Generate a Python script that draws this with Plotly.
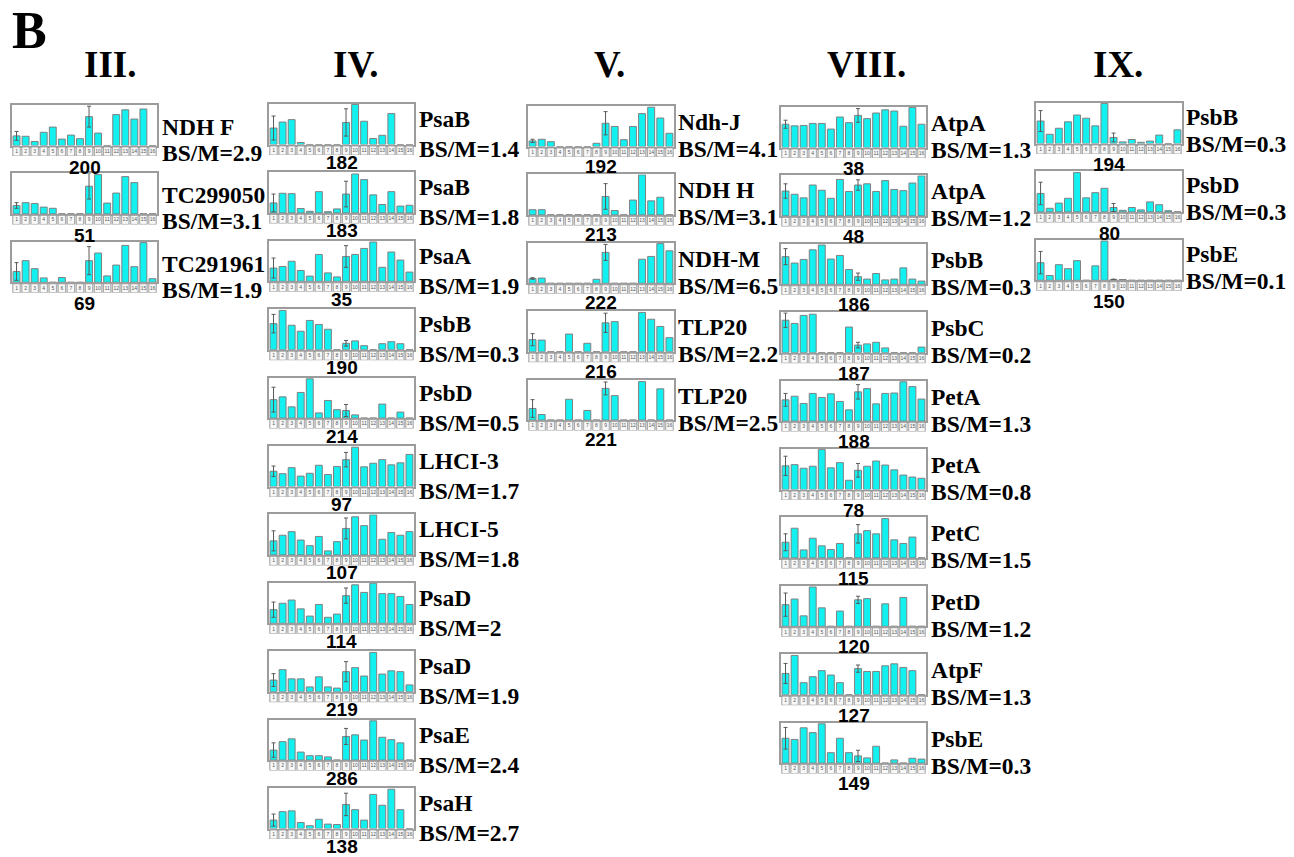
import plotly.graph_objects as go

# ---------------- data ----------------
bar_slots = list(range(1, 17))
tick_labels = [str(i) for i in bar_slots]
err_slots = [1, 9]
headers = ["III.", "IV.", "V.", "VIII.", "IX."]
panel_letter = "B"

# column III
bars_200 = [24, 23, 10, 33, 46, 16, 26, 17, 72, 31, 0, 77, 89, 66, 91, 0]
err_200 = [11, 26]
bars_51 = [21, 28, 26, 17, 14, 0, 0, 0, 69, 98, 27, 52, 93, 78, 0, 0]
err_51 = [7, 32]
bars_69 = [27, 54, 34, 11, 0, 12, 0, 0, 54, 73, 16, 43, 92, 39, 99, 9]
err_69 = [22, 35]

# column IV
bars_182 = [41, 56, 62, 5, 0, 0, 0, 0, 55, 100, 58, 15, 23, 77, 0, 0]
err_182 = [30, 34]
bars_183 = [25, 49, 48, 11, 4, 53, 3, 10, 47, 97, 83, 45, 21, 53, 17, 19]
err_183 = [22, 32]
bars_35 = [33, 37, 50, 27, 13, 67, 21, 11, 62, 67, 82, 98, 35, 73, 53, 23]
err_35 = [25, 27]
bars_190 = [65, 98, 61, 46, 73, 63, 51, 0, 16, 22, 10, 0, 15, 20, 15, 0]
err_190 = [23, 7]
bars_214 = [46, 53, 28, 64, 98, 13, 44, 21, 19, 8, 0, 0, 35, 0, 15, 0]
err_214 = [31, 15]
bars_97 = [38, 32, 47, 26, 33, 53, 30, 50, 67, 98, 49, 58, 67, 54, 59, 80]
err_97 = [13, 18]
bars_107 = [35, 49, 58, 37, 23, 46, 10, 33, 66, 95, 73, 100, 39, 56, 49, 58]
err_107 = [25, 26]
bars_114 = [34, 50, 58, 36, 18, 47, 15, 23, 69, 96, 77, 100, 74, 74, 67, 47]
err_114 = [19, 19]
bars_219 = [29, 55, 32, 32, 12, 37, 12, 9, 50, 60, 39, 98, 44, 52, 50, 17]
err_219 = [16, 25]
bars_286 = [25, 46, 53, 20, 11, 11, 8, 0, 59, 63, 50, 98, 57, 51, 43, 0]
err_286 = [18, 20]
bars_138 = [21, 42, 44, 15, 7, 23, 11, 10, 60, 47, 21, 85, 58, 98, 47, 0]
err_138 = [15, 28]

# column V
bars_192 = [14, 18, 12, 0, 0, 0, 0, 8, 58, 50, 17, 50, 82, 98, 71, 33]
err_192 = [4, 29]
bars_213 = [13, 13, 0, 0, 0, 0, 0, 0, 46, 11, 0, 37, 100, 35, 44, 0]
err_213 = [0, 32]
bars_222 = [12, 13, 0, 0, 0, 0, 0, 10, 77, 0, 0, 0, 60, 67, 99, 81]
err_222 = [2, 20]
bars_216 = [30, 29, 0, 0, 44, 0, 21, 0, 72, 75, 0, 0, 98, 81, 63, 35]
err_216 = [15, 24]
bars_221 = [29, 14, 0, 0, 52, 0, 24, 0, 79, 61, 0, 0, 96, 0, 78, 0]
err_221 = [22, 16]

# column VIII
bars_38 = [58, 54, 55, 60, 60, 46, 76, 62, 80, 72, 86, 94, 91, 53, 100, 58]
err_38 = [10, 17]
bars_48 = [62, 54, 45, 77, 64, 44, 91, 61, 77, 80, 61, 88, 66, 63, 82, 100]
err_48 = [18, 13]
bars_186 = [69, 53, 62, 86, 98, 63, 72, 37, 19, 13, 27, 11, 13, 41, 13, 8]
err_186 = [20, 9]
bars_187 = [81, 73, 93, 96, 0, 0, 0, 64, 19, 22, 26, 12, 0, 0, 0, 14]
err_187 = [18, 7]
bars_188 = [53, 62, 44, 69, 59, 68, 49, 28, 73, 81, 43, 69, 70, 98, 86, 55]
err_188 = [16, 18]
bars_78 = [59, 62, 53, 58, 100, 54, 67, 23, 48, 58, 71, 61, 49, 36, 31, 28]
err_78 = [24, 17]
bars_115 = [39, 74, 20, 49, 30, 21, 36, 0, 60, 68, 60, 98, 45, 36, 52, 0]
err_115 = [21, 23]
bars_120 = [54, 68, 26, 98, 46, 0, 38, 0, 66, 69, 0, 56, 0, 72, 0, 0]
err_120 = [29, 9]
bars_127 = [53, 98, 30, 45, 60, 49, 30, 0, 65, 58, 58, 72, 77, 68, 60, 0]
err_127 = [25, 9]
bars_149 = [62, 59, 88, 76, 98, 26, 62, 26, 18, 13, 42, 0, 8, 0, 12, 10]
err_149 = [27, 14]

# column IX
bars_194 = [56, 23, 38, 54, 71, 63, 44, 100, 15, 4, 10, 3, 6, 21, 0, 34]
err_194 = [26, 11]
bars_80 = [46, 9, 22, 34, 98, 35, 48, 59, 11, 4, 11, 5, 25, 18, 3, 0]
err_80 = [28, 10]
bars_150 = [44, 12, 39, 29, 49, 0, 36, 98, 2, 2, 0, 0, 0, 0, 0, 0]
err_150 = [28, 1]

col3_ids = ["200", "51", "69"]
col3_names = ["NDH F", "TC299050", "TC291961"]
col3_ratio = ["2.9", "3.1", "1.9"]
col3_bars = [bars_200, bars_51, bars_69]
col3_err = [err_200, err_51, err_69]

col4_ids = ["182", "183", "35", "190", "214", "97", "107", "114", "219", "286", "138"]
col4_names = ["PsaB", "PsaB", "PsaA", "PsbB", "PsbD", "LHCI-3", "LHCI-5", "PsaD", "PsaD", "PsaE", "PsaH"]
col4_ratio = ["1.4", "1.8", "1.9", "0.3", "0.5", "1.7", "1.8", "2", "1.9", "2.4", "2.7"]
col4_bars = [bars_182, bars_183, bars_35, bars_190, bars_214, bars_97, bars_107,
             bars_114, bars_219, bars_286, bars_138]
col4_err = [err_182, err_183, err_35, err_190, err_214, err_97, err_107,
            err_114, err_219, err_286, err_138]

col5_ids = ["192", "213", "222", "216", "221"]
col5_names = ["Ndh-J", "NDH H", "NDH-M", "TLP20", "TLP20"]
col5_ratio = ["4.1", "3.1", "6.5", "2.2", "2.5"]
col5_bars = [bars_192, bars_213, bars_222, bars_216, bars_221]
col5_err = [err_192, err_213, err_222, err_216, err_221]

col8_ids = ["38", "48", "186", "187", "188", "78", "115", "120", "127", "149"]
col8_names = ["AtpA", "AtpA", "PsbB", "PsbC", "PetA", "PetA", "PetC", "PetD", "AtpF", "PsbE"]
col8_ratio = ["1.3", "1.2", "0.3", "0.2", "1.3", "0.8", "1.5", "1.2", "1.3", "0.3"]
col8_bars = [bars_38, bars_48, bars_186, bars_187, bars_188, bars_78, bars_115,
             bars_120, bars_127, bars_149]
col8_err = [err_38, err_48, err_186, err_187, err_188, err_78, err_115,
            err_120, err_127, err_149]

col9_ids = ["194", "80", "150"]
col9_names = ["PsbB", "PsbD", "PsbE"]
col9_ratio = ["0.3", "0.3", "0.1"]
col9_bars = [bars_194, bars_80, bars_150]
col9_err = [err_194, err_80, err_150]

# ---------------- layout constants ----------------
OFF = 8                      # default page body margin of the html page
W, H = 1294 - OFF, 857 - OFF # figure size so that the page fills the window exactly
STEP = 68.4
PH = 40.5
TICK_TOP, TICK_BOT = 1.5, 10.5
SERIF = "Liberation Serif"
SANS = "Liberation Sans"
BAR_FILL = "#12F0F0"
BAR_LINE = "#808080"
FRAME = "#9c9c9c"
LABEL_SIZE = 23.5

columns = [
    dict(ids=col3_ids, names=col3_names, ratio=col3_ratio, bars=col3_bars, err=col3_err,
         x0=12, x1=157, top=105, name_dy=22, ratio_dy=48, lab_dy=62, text_x=160, head_x=110),
    dict(ids=col4_ids, names=col4_names, ratio=col4_ratio, bars=col4_bars, err=col4_err,
         x0=269, x1=414, top=104, name_dy=15, ratio_dy=45, lab_dy=58.5, text_x=417, head_x=356),
    dict(ids=col5_ids, names=col5_names, ratio=col5_ratio, bars=col5_bars, err=col5_err,
         x0=528, x1=674, top=106, name_dy=16, ratio_dy=43, lab_dy=60, text_x=676, head_x=609),
    dict(ids=col8_ids, names=col8_names, ratio=col8_ratio, bars=col8_bars, err=col8_err,
         x0=781, x1=926, top=107, name_dy=16, ratio_dy=43, lab_dy=61, text_x=929, head_x=866),
    dict(ids=col9_ids, names=col9_names, ratio=col9_ratio, bars=col9_bars, err=col9_err,
         x0=1036, x1=1182, top=103, name_dy=14, ratio_dy=41, lab_dy=62, text_x=1184, head_x=1118),
]


def px(v):
    return (v - OFF) / W


def py(v):
    return 1 - (v - OFF) / H


fig = go.Figure()
layout = {}
annotations = []
shapes = []
k = 0
for ci, col in enumerate(columns):
    for i in range(len(col["ids"])):
        T = col["top"] + i * STEP
        a_main = 2 * k + 1
        a_tick = 2 * k + 2
        k += 1
        xm = "x" if a_main == 1 else f"x{a_main}"
        ym = "y" if a_main == 1 else f"y{a_main}"
        xt, yt = f"x{a_tick}", f"y{a_tick}"
        dom_x = [px(col["x0"]), px(col["x1"])]
        kx = "xaxis" if a_main == 1 else f"xaxis{a_main}"
        ky = "yaxis" if a_main == 1 else f"yaxis{a_main}"
        layout[kx] = dict(domain=dom_x, range=[0.5, 16.5], anchor=ym, showticklabels=False,
                          ticks="", showgrid=False, zeroline=False, showline=True,
                          mirror=True, linecolor=FRAME, linewidth=1.5, fixedrange=True)
        layout[ky] = dict(domain=[py(T + PH), py(T)], range=[0, 101], anchor=xm,
                          showticklabels=False, ticks="", showgrid=False, zeroline=False,
                          showline=True, mirror=True, linecolor=FRAME, linewidth=1.5,
                          fixedrange=True)
        layout[f"xaxis{a_tick}"] = dict(domain=dom_x, range=[0.5, 16.5], anchor=yt,
                                        visible=False, fixedrange=True)
        layout[f"yaxis{a_tick}"] = dict(domain=[py(T + PH + TICK_BOT), py(T + PH + TICK_TOP)],
                                        range=[0, 1], anchor=xt, visible=False, fixedrange=True)

        vals = col["bars"][i]
        errs = col["err"][i]
        fig.add_trace(go.Bar(x=bar_slots, y=vals, width=0.76, xaxis=xm, yaxis=ym,
                             marker=dict(color=BAR_FILL, line=dict(color=BAR_LINE, width=1)),
                             hoverinfo="skip"))
        ex = [s for s, e in zip(err_slots, errs) if e > 0]
        ey = [vals[s - 1] for s, e in zip(err_slots, errs) if e > 0]
        ee = [e for e in errs if e > 0]
        if ex:
            fig.add_trace(go.Scatter(x=ex, y=ey, xaxis=xm, yaxis=ym, mode="markers",
                                     marker=dict(size=1, color="rgba(0,0,0,0)"),
                                     error_y=dict(type="data", array=ee, symmetric=True,
                                                  color="#5a5a5a", thickness=1, width=2),
                                     hoverinfo="skip"))
        # tick strip
        shapes.append(dict(type="rect", xref=f"{xt} domain", yref=f"{yt} domain",
                           x0=0, x1=1, y0=0, y1=1, fillcolor="#d6d6d6",
                           line=dict(width=0), layer="below"))
        fig.add_trace(go.Bar(x=bar_slots, y=[1] * 16, width=0.8, xaxis=xt, yaxis=yt,
                             marker=dict(color="#f8f8f8", line=dict(color="#9a9a9a", width=0.8)),
                             hoverinfo="skip"))
        fig.add_trace(go.Scatter(x=bar_slots, y=[0.5] * 16, text=tick_labels, mode="text",
                                 xaxis=xt, yaxis=yt, textfont=dict(size=5, color="#555555",
                                                                   family=SANS),
                                 hoverinfo="skip"))
        # labels
        annotations.append(dict(text=f"<b>{col['ids'][i]}</b>", x=px((col["x0"] + col["x1"]) / 2),
                                y=py(T + col["lab_dy"]), xref="paper", yref="paper",
                                showarrow=False, xanchor="center", yanchor="middle",
                                font=dict(family=SANS, size=19, color="black")))
        annotations.append(dict(text=f"<b>{col['names'][i]}</b>", x=px(col["text_x"]),
                                y=py(T + col["name_dy"]), xref="paper", yref="paper",
                                showarrow=False, xanchor="left", yanchor="middle",
                                font=dict(family=SERIF, size=LABEL_SIZE, color="black")))
        annotations.append(dict(text=f"<b>BS/M={col['ratio'][i]}</b>", x=px(col["text_x"]),
                                y=py(T + col["ratio_dy"]), xref="paper", yref="paper",
                                showarrow=False, xanchor="left", yanchor="middle",
                                font=dict(family=SERIF, size=LABEL_SIZE, color="black")))
    annotations.append(dict(text=f"<b>{headers[ci]}</b>", x=px(col["head_x"]),
                            y=py(64.5), xref="paper", yref="paper", showarrow=False,
                            xanchor="center", yanchor="middle",
                            font=dict(family=SERIF, size=37, color="black")))

annotations.append(dict(text=f"<b>{panel_letter}</b>", x=px(10), y=py(31), xref="paper",
                        yref="paper", showarrow=False, xanchor="left", yanchor="middle",
                        font=dict(family=SERIF, size=52, color="black")))

fig.update_layout(width=W, height=H, margin=dict(l=0, r=0, t=0, b=0), showlegend=False,
                  paper_bgcolor="white", plot_bgcolor="white", barmode="overlay",
                  annotations=annotations, shapes=shapes, **layout)

fig.write_html("out.html", config=dict(displayModeBar=False))
